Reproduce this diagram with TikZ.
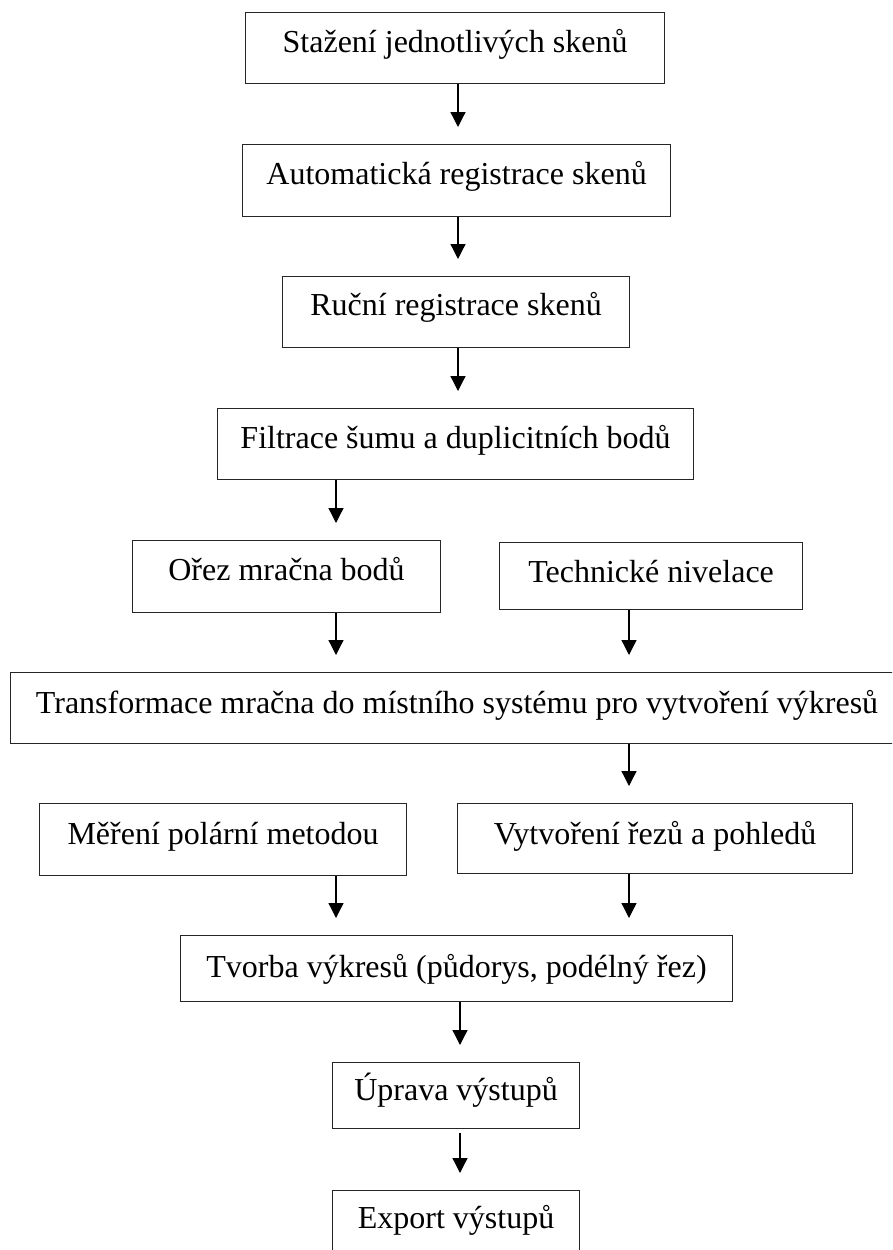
\documentclass[tikz,border=0pt]{standalone}
\usepackage{fontspec}
\setmainfont{Liberation Serif}
\usetikzlibrary{arrows.meta}
\begin{document}
\begin{tikzpicture}[x=1pt,y=-1pt,
  box/.style={draw=black!85, line width=1.1pt, inner sep=0pt, anchor=north west,
    font=\fontsize{32}{38}\selectfont, text height=40pt, align=center},
  arr/.style={draw=black, line width=1.3pt, -{Triangle[length=15pt,width=15pt]}, shorten >=17pt}]
\clip (0,0) rectangle (892,1250);
\fill[white] (0,0) rectangle (892,1250);
\node[box, minimum width=419pt, text depth=31pt] (b1) at (245,12) {Stažení jednotlivých skenů};
\node[box, minimum width=428pt, text depth=32pt] (b2) at (242,144) {Automatická registrace skenů};
\node[box, minimum width=347pt, text depth=32pt, text height=39pt] (b3) at (282,276) {Ruční registrace skenů};
\node[box, minimum width=476pt, text depth=31pt] (b4) at (217,408) {Filtrace šumu a duplicitních bodů};
\node[box, minimum width=308pt, text depth=32pt] (b5) at (132,540) {Ořez mračna bodů};
\node[box, minimum width=303pt, text depth=27pt] (b6) at (499,542) {Technické nivelace};
\node[box, minimum width=893pt, text depth=30pt, text height=41pt] (b7) at (10,672) {Transformace mračna do místního systému pro vytvoření výkresů};
\node[box, minimum width=367pt, text depth=31pt, text height=41pt] (b8) at (39,803) {Měření polární metodou};
\node[box, minimum width=395pt, text depth=29pt, text height=41pt] (b9) at (457,803) {Vytvoření řezů a pohledů};
\node[box, minimum width=552pt, text depth=24pt, text height=42pt] (b10) at (180,935) {Tvorba výkresů (půdorys, podélný řez)};
\node[box, minimum width=247pt, text depth=28pt, text height=38pt] (b11) at (332,1062) {Úprava výstupů};
\node[box, minimum width=247pt, text depth=42pt, text height=38pt] (b12) at (332,1190) {Export výstupů};
\coordinate (xc) at (458,0);
\coordinate (xl) at (336,0);
\coordinate (xr) at (629,0);
\coordinate (xb) at (460,0);
\draw[arr] (b1.south -| xc) -- (b2.north -| xc);
\draw[arr] (b2.south -| xc) -- (b3.north -| xc);
\draw[arr] (b3.south -| xc) -- (b4.north -| xc);
\draw[arr] (b4.south -| xl) -- (b5.north -| xl);
\draw[arr] (b5.south -| xl) -- (b7.north -| xl);
\draw[arr] (b6.south -| xr) -- (b7.north -| xr);
\draw[arr] (b7.south -| xr) -- (b9.north -| xr);
\draw[arr] (b8.south -| xl) -- (b10.north -| xl);
\draw[arr] (b9.south -| xr) -- (b10.north -| xr);
\draw[arr] (b10.south -| xb) -- (b11.north -| xb);
\draw[arr, shorten <=4pt] (b11.south -| xb) -- (b12.north -| xb);
\end{tikzpicture}
\end{document}
